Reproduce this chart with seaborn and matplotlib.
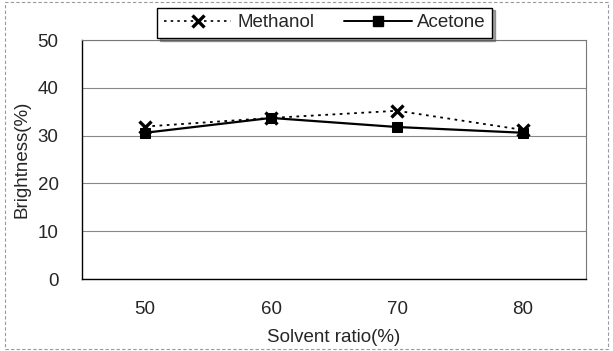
import matplotlib
matplotlib.use("Agg")
import matplotlib.pyplot as plt
import seaborn as sns
import pandas as pd
from matplotlib.patches import Rectangle
from matplotlib.lines import Line2D

ratios = [50, 60, 70, 80]
methanol = [31.9, 33.7, 35.2, 31.2]
acetone = [30.6, 33.7, 31.8, 30.6]
yticks = [0, 10, 20, 30, 40, 50]

df_m = pd.DataFrame({"ratio": ratios, "value": methanol})
df_a = pd.DataFrame({"ratio": ratios, "value": acetone})

sns.set_theme(style="white")
plt.rcParams["font.family"] = ["Liberation Sans", "DejaVu Sans"]

fig = plt.figure(figsize=(6.13, 3.51), dpi=100)
ax = fig.add_axes([0.134, 0.205, 0.822, 0.681])

sns.lineplot(data=df_m, x="ratio", y="value", color="black",
             linestyle=(0, (1.5, 2.5)), marker="x", markersize=9,
             markeredgewidth=2.4, markeredgecolor="black", linewidth=1.3, ax=ax)
sns.lineplot(data=df_a, x="ratio", y="value", color="black",
             linestyle="-", marker="s", markersize=7, markeredgecolor="black",
             linewidth=1.6, ax=ax)

ax.set_xlim(45, 85)
ax.set_ylim(0, 50)
ax.set_xticks(ratios)
ax.set_xticklabels([str(r) for r in ratios], fontsize=13.5)
ax.set_yticks(yticks)
ax.set_yticklabels([str(t) for t in yticks], fontsize=13.5)
ax.tick_params(axis="x", length=0, pad=16)
ax.tick_params(axis="y", length=0, pad=17)
ax.yaxis.grid(True, color="#888888", linewidth=0.8)
ax.set_axisbelow(True)
ax.set_xlabel("Solvent ratio(%)", fontsize=13.5, labelpad=8)
ax.set_ylabel("Brightness(%)", fontsize=13.5, labelpad=5)
for s in ["left", "bottom"]:
    ax.spines[s].set_color("black")
    ax.spines[s].set_linewidth(1.0)
for s in ["top", "right"]:
    ax.spines[s].set_color("#777777")
    ax.spines[s].set_linewidth(0.8)

handles = [
    Line2D([], [], color="black", linestyle=(0, (1.5, 2.5)), marker="x",
           markersize=9, markeredgewidth=2.4, linewidth=1.2),
    Line2D([], [], color="black", linestyle="-", marker="s",
           markersize=7, linewidth=1.4),
]
leg = fig.legend(handles, ["Methanol", "Acetone"], ncol=2,
                 loc="center", bbox_to_anchor=(0.53, 0.935),
                 frameon=True, fancybox=False, shadow=True,
                 edgecolor="black", fontsize=13.5, handlelength=3.6,
                 columnspacing=1.6, borderpad=0.35, handletextpad=0.3)
leg.get_frame().set_linewidth(1.0)

fig.patches.append(Rectangle((0.008, 0.005), 0.984, 0.99, transform=fig.transFigure,
                             fill=False, edgecolor="#999999", linewidth=0.8,
                             linestyle=(0, (3, 2))))

fig.savefig("out.png", dpi=100)
